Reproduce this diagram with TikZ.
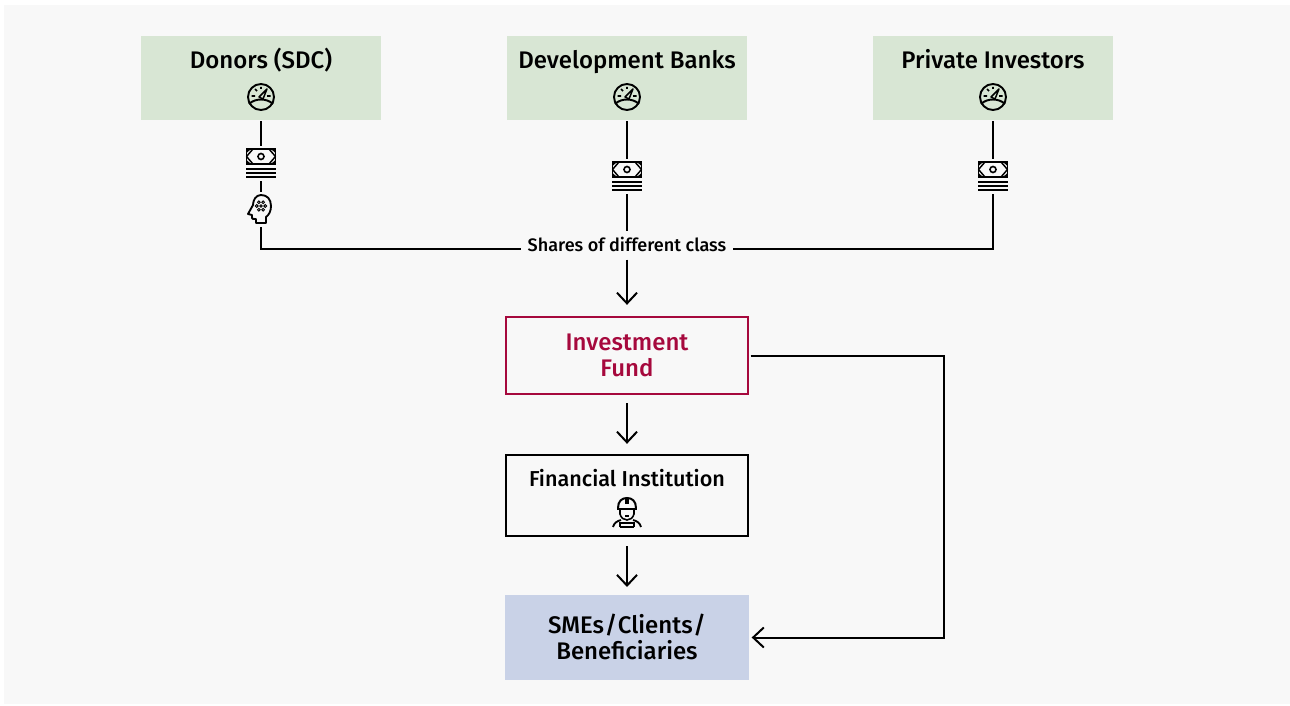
\documentclass[tikz,border=0pt]{standalone}
\usepackage{fontspec}
\setmainfont{Fira Sans}[BoldFont={Fira Sans Medium}]
\usetikzlibrary{arrows.meta}
\definecolor{panelgray}{HTML}{F8F8F8}
\definecolor{donorgreen}{HTML}{D8E6D4}
\definecolor{smeblue}{HTML}{C9D2E7}
\definecolor{fundred}{HTML}{A6093D}
\tikzset{
  box/.style={minimum width=180pt, minimum height=63pt, inner sep=0pt, outer sep=0pt, align=center},
  greenbox/.style={box, fill=donorgreen},
  title/.style={font=\fontsize{18}{19.5}\selectfont\bfseries, inner sep=0pt, align=center, anchor=base},
  iconbox/.style={minimum width=22.5pt, minimum height=22.5pt, inner sep=0pt, outer sep=1.5pt},
  link/.style={line width=1.5pt, shorten <=1pt},
  flow/.style={line width=1.5pt, -{Straight Barb[length=8pt,width=15pt,line width=1.5pt]}},
  gauge/.pic={
    \draw [line width=1.45pt] (0,0) circle (13);
    \draw [line width=1.45pt] (-12,7) .. controls (-6,1) and (6,1) .. (12,7);
    \draw [line width=1.2pt] (-9.5,-1) -- (-6,-1) (9.5,-1) -- (6,-1) (-6,-8) -- (-4,-6) (0,-10) -- (0,-8);
    \draw [line width=1.1pt, line join=round] (-2,0) -- (6,-8) -- (2,2) -- cycle;
  },
  money/.pic={
    \draw [line width=1.3pt] (-14.5,-14) rectangle (14.5,1);
    \fill (-14.5,-14) -- (-10,-14) -- (-14.5,-10) -- cycle (14.5,-14) -- (10,-14) -- (14.5,-10) -- cycle
      (-14.5,1) -- (-10,1) -- (-14.5,-3) -- cycle (14.5,1) -- (10,1) -- (14.5,-3) -- cycle;
    \draw [line width=1.1pt] (-14.5,-6.5) -- (-8,-14) (14.5,-6.5) -- (8,-14) (-14.5,-6.5) -- (-8,1) (14.5,-6.5) -- (8,1);
    \draw [line width=1.2pt] (0,-6.5) circle (3);
    \draw [line width=1.5pt] (-15,6) -- (15,6) (-15,10) -- (15,10) (-15,14) -- (15,14);
  },
  thinker/.pic={
    \draw [line width=1.4pt, line join=round] (5,14) -- (5,8) .. controls (8,6) and (10,2) .. (10,-3)
      .. controls (10,-10) and (6,-14) .. (0,-14) .. controls (-5,-14) and (-8,-9) .. (-8,-4)
      -- (-13,5) -- (-9,6) -- (-9,9) .. controls (-9,10) and (-8,10) .. (-5,10) -- (-5,14) -- cycle;
    \foreach \a in {0,60,...,300} {\draw [line width=.7pt] (\a:4.3) ++(0,-3) circle (1.4);}
    \draw [line width=.7pt] (0,-3) circle (1.3);
  },
  worker/.pic={
    \draw [line width=1.5pt] (-9,-5) .. controls (-9,-12) and (-5,-15) .. (0,-15)
      .. controls (5,-15) and (9,-12) .. (9,-5);
    \draw [line width=1.9pt] (-10,-4) -- (10,-4);
    \draw [line width=3pt] (0,-14) -- (0,-9);
    \draw [line width=1.2pt] (-7,-3) -- (-7,1) .. controls (-6,5) and (-3,7) .. (0,7)
      .. controls (3,7) and (6,5) .. (7,1) -- (7,-3);
    \draw [line width=1pt] (-2,3) -- (2,3);
    \draw [line width=1.4pt] (-14,14) .. controls (-13,10) and (-10,8) .. (-6,7) (14,14) .. controls (13,10) and (10,8) .. (6,7);
    \draw [line width=1.3pt] (-7,14) -- (-7,9) (7,14) -- (7,9) (-7,10) -- (7,10) (-7,14) -- (7,14);
  }
}
\begin{document}
\begin{tikzpicture}[x=0.75pt, y=-0.75pt]
  \useasboundingbox (0,0) rectangle (1290,706);
  \fill [white] (0,0) rectangle (1290,706);
  \fill [panelgray] (4,5) rectangle (1290,704);
  \node [greenbox] (donors) at (261,78) {};
  \node [greenbox] (banks) at (627,78) {};
  \node [greenbox] (investors) at (993,78) {};
  \node [title] (donorsname) at (261,69) {Donors (SDC)};
  \node [title] (banksname) at (627,69) {Development Banks};
  \node [title] (investorsname) at (993,69) {Private Investors};
  \pic at (261,97) {gauge};
  \pic at (627,97) {gauge};
  \pic at (993,97) {gauge};
  \node [iconbox] (moneyleft) at (261,163) {};
  \node [iconbox] (moneymid) at (627,176) {};
  \node [iconbox] (moneyright) at (993,176) {};
  \node [iconbox] (head) at (261,209) {};
  \pic at (moneyleft) {money};
  \pic at (moneymid) {money};
  \pic at (moneyright) {money};
  \pic at (head) {thinker};
  \node [font=\fontsize{13.55}{15}\selectfont\bfseries, text height=15.75pt, text depth=4.5pt, inner xsep=4.5pt, inner ysep=0pt] (shares) at (627,244.5) {Shares of different class};
  \node [box, draw=fundred, line width=1.5pt, text=fundred, font=\fontsize{18}{19.5}\selectfont\bfseries, minimum width=181.5pt, minimum height=58pt] (fund) at (627,355.5) {Investment\\Fund};
  \node [box, draw=black, line width=1.5pt, minimum width=181.5pt, minimum height=60.75pt] (institution) at (627,495) {};
  \node [title, font=\fontsize{16.2}{19.5}\selectfont\bfseries] (institutionname) at (627,486) {Financial Institution};
  \pic at (627,513) {worker};
  \node [box, fill=smeblue, minimum width=183pt, minimum height=63.75pt] (smes) at (627,637.5) {};
  \node [title, anchor=center] (smesname) at (627,636.5) {SMEs\kern.5pt/\kern.5ptClients\kern.5pt/\\Beneficiaries};
  \coordinate (corner) at (944,355.5);
  \path [draw, link] (donors) edge (moneyleft);
  \path [draw, link] (moneyleft) edge (head);
  \path [draw, link] (banks) edge (moneymid);
  \path [draw, link] (moneymid) edge (shares);
  \path [draw, link] (investors) edge (moneyright);
  \draw [link, line join=miter] (head) |- ([yshift=-3.75pt]shares.west);
  \draw [link, line join=miter] (moneyright) |- ([yshift=-3.75pt]shares.east);
  \draw [flow, shorten <=1pt, shorten >=9pt] (shares) -- (fund);
  \draw [flow, shorten <=6.75pt, shorten >=8pt] (fund) -- (institution);
  \draw [flow, shorten <=8pt, shorten >=6pt] (institution) -- (smes);
  \draw [flow, shorten <=2pt, shorten >=2pt] (fund.east) -- (corner) |- (smes.east);
\end{tikzpicture}
\end{document}
